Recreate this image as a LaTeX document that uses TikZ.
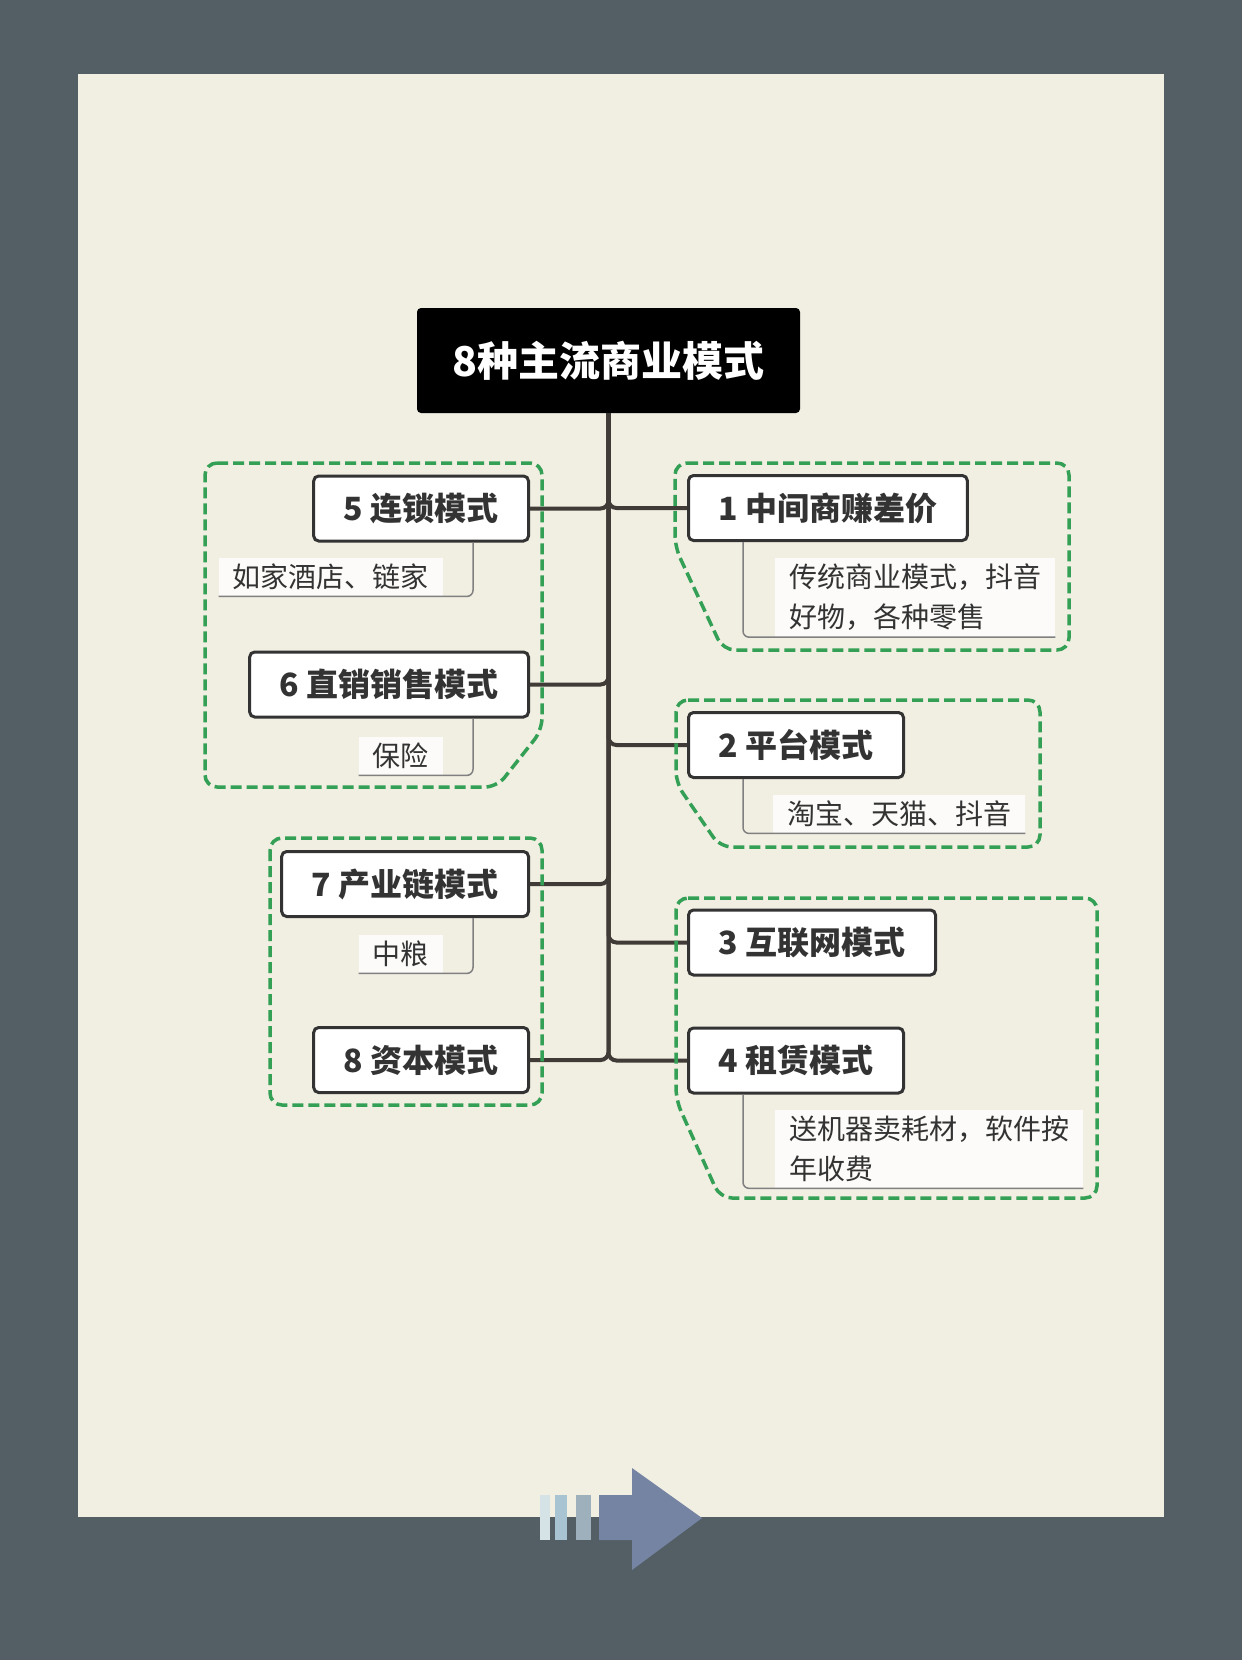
\documentclass[tikz,border=0pt]{standalone}
\usepackage{fontspec}
\setmainfont{Noto Sans CJK SC}
\definecolor{slate}{RGB}{83,95,100}
\definecolor{paper}{RGB}{241,238,226}
\definecolor{ink}{RGB}{51,51,51}
\definecolor{trunk}{RGB}{64,59,54}
\definecolor{groupgreen}{RGB}{52,160,86}
\definecolor{barA}{RGB}{213,226,230}
\definecolor{barB}{RGB}{168,196,210}
\definecolor{barC}{RGB}{157,176,188}
\definecolor{arrowblue}{RGB}{118,132,163}
\begin{document}
\begin{tikzpicture}[x=1pt, y=-1pt, titlebox/.style={fill=black, rounded corners=4pt, text=white, minimum width=383pt, minimum height=105pt, font=\bfseries\fontsize{41}{48}\selectfont}, modebox/.style={draw=ink, fill=white, line width=3pt, rounded corners=5pt, text=ink, minimum height=65pt, inner xsep=30pt, font=\bfseries\fontsize{32}{38}\selectfont}, notebox/.style={fill=white, fill opacity=0.8, text opacity=1, text=ink, inner xsep=14pt, inner ysep=6pt, align=left, font=\fontsize{28}{40}\selectfont}, branchline/.style={draw=trunk, line width=4pt, rounded corners=8pt}, bracketline/.style={draw=gray, line width=1.5pt, rounded corners=6pt}, groupline/.style={draw=groupgreen, line width=3.5pt, dash pattern=on 11pt off 5pt, rounded corners=12pt}]
\useasboundingbox (0,0) rectangle (1242,1660);
\fill[slate] (0,0) rectangle (1242,1660);
\fill[paper] (78,74) rectangle (1164,1517);

\node[titlebox] (title) at (608.5,360.5) {8种主流商业模式};
\node[modebox, anchor=west, minimum width=278pt] (m1) at (687,508) {1 中间商赚差价};
\node[modebox, anchor=west, minimum width=215pt] (m2) at (687,745) {2 平台模式};
\node[modebox, anchor=west, minimum width=247pt] (m3) at (687,942.5) {3 互联网模式};
\node[modebox, anchor=west, minimum width=215pt] (m4) at (687,1060.5) {4 租赁模式};
\node[modebox, anchor=east, minimum width=214pt] (m5) at (530,508.5) {5 连锁模式};
\node[modebox, anchor=east, minimum width=278pt] (m6) at (530,684.5) {6 直销销售模式};
\node[modebox, anchor=east, minimum width=245pt] (m7) at (530,884) {7 产业链模式};
\node[modebox, anchor=east, minimum width=213pt] (m8) at (530,1060) {8 资本模式};

\node[notebox, anchor=north west] (d1) at (775,558) {传统商业模式，抖音\\好物，各种零售};
\node[notebox, anchor=north west] (d2) at (773,795) {淘宝、天猫、抖音};
\node[notebox, anchor=north west] (d4) at (775,1110) {送机器卖耗材，软件按\\年收费};
\node[notebox, anchor=north east] (d5) at (443,558) {如家酒店、链家};
\node[notebox, anchor=north east] (d6) at (443,737) {保险};
\node[notebox, anchor=north east] (d7) at (443,935) {中粮};

\draw[bracketline] ([xshift=56pt]m1.south west) |- (d1.south east);
\draw[bracketline] ([xshift=56pt]m2.south west) |- (d2.south east);
\draw[bracketline] ([xshift=56pt]m4.south west) |- (d4.south east);
\draw[bracketline] ([xshift=-57pt]m5.south east) |- (d5.south west);
\draw[bracketline] ([xshift=-57pt]m6.south east) |- (d6.south west);
\draw[bracketline] ([xshift=-57pt]m7.south east) |- (d7.south west);

\draw[branchline] (title.south) |- (m1.west);
\draw[branchline] (title.south) |- (m2.west);
\draw[branchline] (title.south) |- (m3.west);
\draw[branchline] (title.south) |- (m4.west);
\draw[branchline] (title.south) |- (m5.east);
\draw[branchline] (title.south) |- (m6.east);
\draw[branchline] (title.south) |- (m7.east);
\draw[branchline] (title.south) |- (m8.east);

\draw[groupline] (205,463) -- (542,463) -- (542,730) -- (497,787) -- (205,787) -- cycle;
\draw[groupline] (270,838) rectangle (542,1105);
\draw[groupline] (675,463) -- (1069,463) -- (1069,650) -- (723,650) -- (675,547) -- cycle;
\draw[groupline] (676,700) -- (1040,700) -- (1040,847) -- (720,847) -- (676,783) -- cycle;
\draw[groupline] (676,898) -- (1097,898) -- (1097,1198) -- (720,1198) -- (676,1100) -- cycle;

\fill[barA] (540,1495) rectangle (550,1540);
\fill[barB] (555,1495) rectangle (567,1540);
\fill[barC] (576,1495) rectangle (591,1540);
\fill[arrowblue] (599,1495) -- (632,1495) -- (632,1468) -- (702,1518) -- (632,1570) -- (632,1540) -- (599,1540) -- cycle;
\end{tikzpicture}
\end{document}
